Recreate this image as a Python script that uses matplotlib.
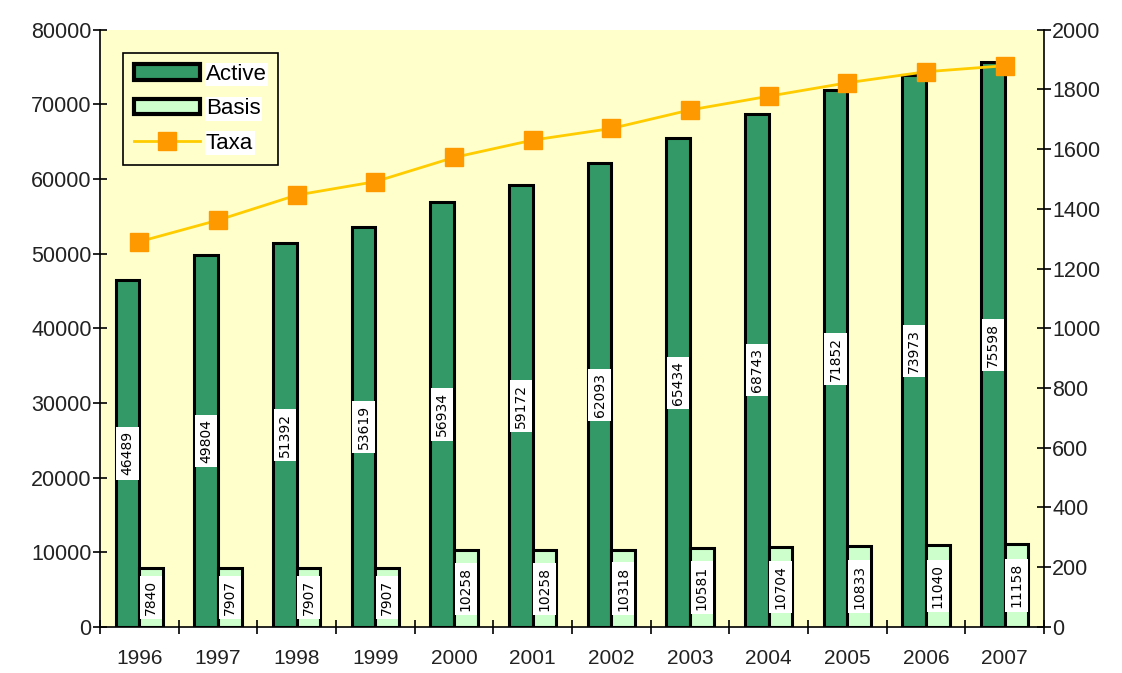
import numpy as np
import matplotlib
matplotlib.use("Agg")
import matplotlib.pyplot as plt
from matplotlib.patches import Patch
from matplotlib.lines import Line2D

plt.rcParams['font.family'] = ['Liberation Sans', 'DejaVu Sans']

# data
years = ['1996', '1997', '1998', '1999', '2000', '2001',
         '2002', '2003', '2004', '2005', '2006', '2007']
active = [46489, 49804, 51392, 53619, 56934, 59172,
          62093, 65434, 68743, 71852, 73973, 75598]
basis = [7840, 7907, 7907, 7907, 10258, 10258,
         10318, 10581, 10704, 10833, 11040, 11158]
taxa = [1290, 1362, 1446, 1491, 1572, 1630,
        1669, 1731, 1777, 1822, 1859, 1879]

fig = plt.figure(figsize=(11.22, 6.73), dpi=100)
ax = fig.add_axes([0.0891, 0.0684, 0.8414, 0.8876])
ax.set_facecolor('#FFFFCC')

x = np.arange(len(years))
w = 0.3
ax.bar(x - w / 2, active, w, color='#339966', edgecolor='black', linewidth=2.2, zorder=2)
ax.bar(x + w / 2, basis, w, color='#CCFFCC', edgecolor='black', linewidth=2.2, zorder=2)

# vertical value labels in white boxes, centred in each bar
lbl_box = dict(boxstyle='square,pad=0.3', facecolor='white', edgecolor='none')
for xi, v in zip(x - w / 2, active):
    ax.text(xi, v / 2, str(v), rotation=90, ha='center', va='center', fontsize=10,
            family='DejaVu Sans', color='black', zorder=3, bbox=lbl_box)
for xi, v in zip(x + w / 2, basis):
    ax.text(xi, v / 2, str(v), rotation=90, ha='center', va='center', fontsize=10,
            family='DejaVu Sans', color='black', zorder=3, bbox=lbl_box)

ax.set_xlim(-0.5, len(years) - 0.5)
ax.set_ylim(0, 80000)
ax.set_yticks(np.arange(0, 80001, 10000))
ax.set_xticks(np.arange(-0.5, len(years), 1.0))
ax.set_xticklabels([])
ax.set_xticks(x, minor=True)
ax.set_xticklabels(years, minor=True)
ax.tick_params(axis='x', which='minor', length=0, pad=16, labelsize=15, labelcolor='#222222')
ax.tick_params(axis='x', which='major', direction='inout', length=10, width=1.2)
ax.tick_params(axis='y', direction='inout', length=10, width=1.2, labelsize=15.5,
               labelcolor='#222222', pad=1)
ax.spines['top'].set_visible(False)
ax.spines['right'].set_visible(False)
for s in ['left', 'bottom']:
    ax.spines[s].set_linewidth(1.2)

ax2 = ax.twinx()
ax2.plot(x, taxa, color='#FFCC00', linewidth=2, marker='s', markersize=13,
         markerfacecolor='#FF9900', markeredgecolor='#FF9900', zorder=4)
ax2.set_ylim(0, 2000)
ax2.set_yticks(np.arange(0, 2001, 200))
ax2.tick_params(axis='y', direction='inout', length=10, width=1.2, labelsize=15.5,
                labelcolor='#222222', pad=1)
ax2.spines['top'].set_visible(False)
ax2.spines['left'].set_visible(False)
ax2.spines['bottom'].set_visible(False)
ax2.spines['right'].set_linewidth(1.2)

handles = [Patch(facecolor='#339966', edgecolor='black', linewidth=3),
           Patch(facecolor='#CCFFCC', edgecolor='black', linewidth=3),
           Line2D([0], [0], color='#FFCC00', linewidth=2, marker='s', markersize=13,
                  markerfacecolor='#FF9900', markeredgecolor='#FF9900')]
leg = ax2.legend(handles, ['Active', 'Basis', 'Taxa'], loc='upper left',
                 bbox_to_anchor=(0.024, 0.961), borderaxespad=0, fontsize=16,
                 fancybox=False, edgecolor='black', facecolor='#FFFFCC', framealpha=1,
                 handlelength=3.0, handleheight=0.7, labelspacing=0.6,
                 handletextpad=0.25, borderpad=0.5)
leg.get_frame().set_linewidth(1.2)
for t in leg.get_texts():
    t.set_bbox(dict(facecolor='white', edgecolor='none', pad=1))

fig.savefig('out.png', dpi=100)
